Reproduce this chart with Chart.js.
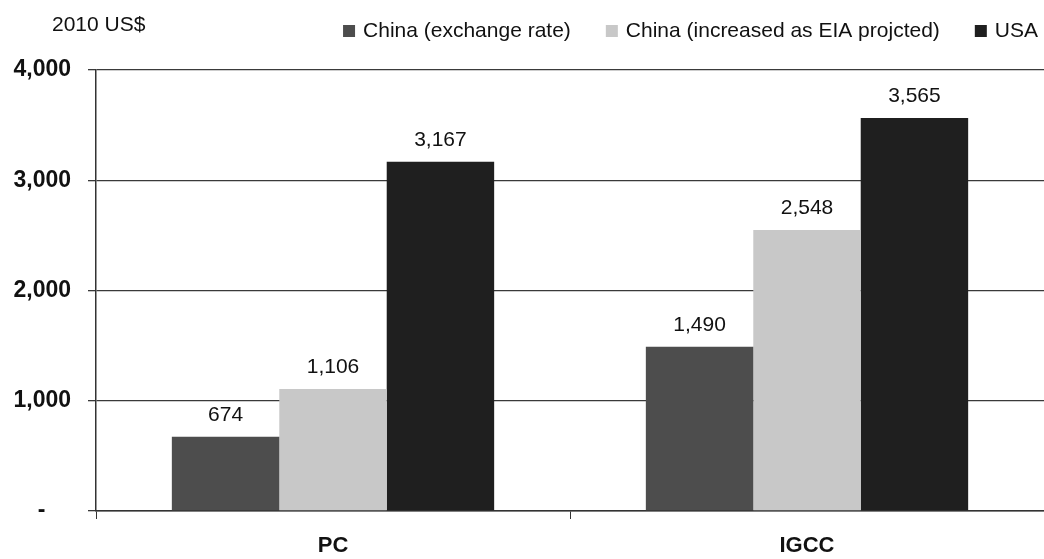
<!DOCTYPE html>
<html>
<head>
<meta charset="utf-8">
<script src="https://cdn.jsdelivr.net/npm/chart.js@4"></script>
<style>
  html, body { margin: 0; padding: 0; background: #fff; }
  #wrap { width: 1044px; height: 559px; }
</style>
</head>
<body>
<div id="wrap"><canvas id="costChart" width="1044" height="559"></canvas></div>
<script>
// capital cost per kW, 2010 US$
const technologies = ["PC", "IGCC"];
const seriesNames = [
  "China (exchange rate)",
  "China (increased as EIA projcted)",
  "USA"
];
const chinaExchange = [674, 1490];
const chinaEia = [1106, 2548];
const usa = [3167, 3565];
const yTicks = [0, 1000, 2000, 3000, 4000];

const barColors = ["#4d4d4d", "#c8c8c8", "#1f1f1f"];
const FONT = "'Liberation Sans', Arial, sans-serif";

// value above each bar, thousands separated
const valueLabels = {
  id: "valueLabels",
  afterDatasetsDraw(chart) {
    const ctx = chart.ctx;
    ctx.save();
    ctx.font = "21px " + FONT;
    ctx.fillStyle = "#111";
    ctx.textAlign = "center";
    ctx.textBaseline = "alphabetic";
    chart.data.datasets.forEach((ds, i) => {
      chart.getDatasetMeta(i).data.forEach((bar, j) => {
        ctx.fillText(ds.data[j].toLocaleString("en-US"), bar.x, bar.y - 16);
      });
    });
    ctx.restore();
  }
};

// unit caption on the left, legend row on the right
const header = {
  id: "header",
  afterDraw(chart) {
    const ctx = chart.ctx;
    ctx.save();
    ctx.font = "21px " + FONT;
    ctx.fillStyle = "#111";
    ctx.textBaseline = "alphabetic";
    ctx.textAlign = "left";
    ctx.fillText("2010 US$", 52, 31);

    const box = 12, gap = 8, spacing = 35;
    const widths = chart.data.datasets.map(ds => ctx.measureText(ds.label).width);
    let total = widths.reduce((a, w) => a + box + gap + w, 0) + spacing * (widths.length - 1);
    let x = 1038 - total;
    chart.data.datasets.forEach((ds, i) => {
      ctx.fillStyle = ds.backgroundColor;
      ctx.fillRect(x, 25, box, box);
      ctx.fillStyle = "#111";
      ctx.fillText(ds.label, x + box + gap, 37);
      x += box + gap + widths[i] + spacing;
    });
    ctx.restore();
  }
};

new Chart(document.getElementById("costChart"), {
  type: "bar",
  data: {
    labels: technologies,
    datasets: [
      { label: seriesNames[0], data: chinaExchange, backgroundColor: barColors[0] },
      { label: seriesNames[1], data: chinaEia, backgroundColor: barColors[1] },
      { label: seriesNames[2], data: usa, backgroundColor: barColors[2] }
    ]
  },
  options: {
    responsive: false,
    animation: false,
    layout: { padding: { top: 70, right: 0, bottom: 0, left: 0 } },
    datasets: {
      bar: { barPercentage: 1, categoryPercentage: 0.68 }
    },
    plugins: {
      legend: { display: false },
      title: { display: false },
      tooltip: { enabled: false }
    },
    scales: {
      x: {
        afterFit(scale) { scale.height = 48; },
        grid: {
          drawOnChartArea: false,
          color: "#333",
          tickLength: 8
        },
        border: { color: "#333", width: 1.5 },
        ticks: {
          color: "#111",
          padding: 14,
          font: { family: FONT, size: 22, weight: "bold" }
        }
      },
      y: {
        min: 0,
        max: 4000,
        afterFit(scale) { scale.width = 96; },
        afterBuildTicks(scale) {
          scale.ticks = yTicks.map(v => ({ value: v }));
        },
        grid: {
          color: "#3a3a3a",
          lineWidth: 1.3,
          tickLength: 8
        },
        border: { color: "#333", width: 1.5 },
        ticks: {
          color: "#111",
          padding: 17,
          font: { family: FONT, size: 23, weight: "bold" },
          callback: v => v === 0 ? "-    " : v.toLocaleString("en-US")
        }
      }
    }
  },
  plugins: [valueLabels, header]
});
</script>
</body>
</html>
